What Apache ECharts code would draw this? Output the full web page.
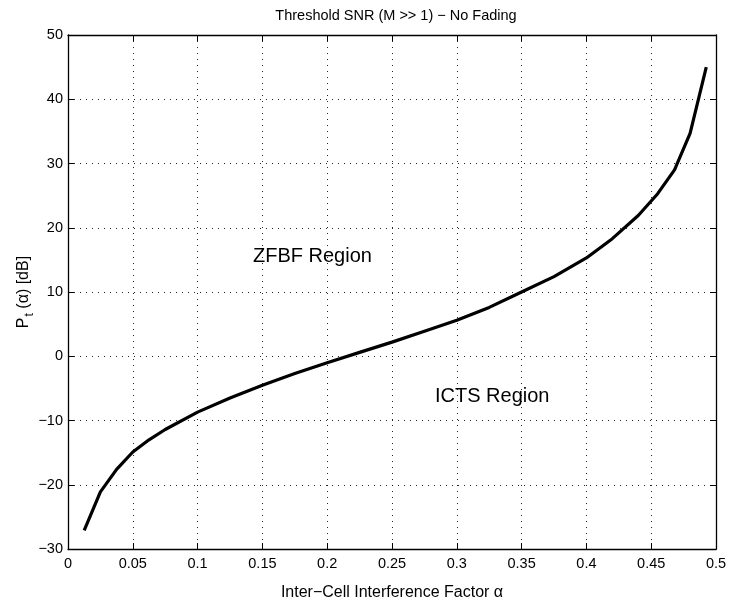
<!DOCTYPE html>
<html>
<head>
<meta charset="utf-8">
<script src="https://cdn.jsdelivr.net/npm/echarts@6/dist/echarts.min.js"></script>
<style>
  html, body { margin: 0; padding: 0; background: #fff; }
  #main { width: 730px; height: 603px; }
</style>
</head>
<body>
<div id="main"></div>
<script>
// inter-cell interference factor alpha
var alphaVals = [0.0125, 0.025, 0.0375, 0.05, 0.0625, 0.075, 0.1, 0.125, 0.15, 0.175,
  0.2, 0.225, 0.25, 0.275, 0.3, 0.325, 0.35, 0.375, 0.4, 0.42, 0.44, 0.455, 0.468, 0.48, 0.4925];
// threshold power Pt(alpha) in dB
var ptVals = [-27.1, -21.1, -17.6, -14.9, -13.0, -11.4, -8.7, -6.5, -4.5, -2.7,
  -1.0, 0.6, 2.2, 3.9, 5.6, 7.6, 10.0, 12.4, 15.3, 18.3, 21.9, 25.3, 29.0, 34.7, 45.0];

var FONT = 'Liberation Sans';
var chart = echarts.init(document.getElementById('main'));

var pts = alphaVals.map(function (a, i) { return [a, ptVals[i]]; });

var gridLine = { show: true, lineStyle: { color: '#000', type: [1, 5], width: 1, opacity: 0.85 } };
var axLine = { show: true, onZero: false, lineStyle: { color: '#000', width: 1.3 } };
var tick = { show: true, inside: true, length: 6, lineStyle: { color: '#000' } };
var minusFmt = function (v) { return String(v).replace('-', '\u2212'); };

var option = {
  backgroundColor: '#fff',
  animation: false,
  title: {
    text: 'Threshold SNR (M >> 1) \u2212 No Fading',
    left: 391, top: 3, textAlign: 'center',
    textStyle: { fontFamily: FONT, fontSize: 14.5, fontWeight: 'normal', color: '#000' }
  },
  grid: { left: 68, right: 14, top: 35, bottom: 54, outerBoundsMode: 'none', containLabel: false },
  xAxis: [{
    type: 'value', min: 0, max: 0.5, interval: 0.05,
    name: 'Inter\u2212Cell Interference Factor \u03b1',
    nameLocation: 'middle', nameGap: 36,
    nameTextStyle: { fontFamily: FONT, fontSize: 16, color: '#000' },
    axisLine: axLine, axisTick: tick, splitLine: gridLine,
    axisLabel: { fontFamily: FONT, fontSize: 14.5, color: '#000', margin: 7, formatter: minusFmt }
  }, {
    type: 'value', min: 0, max: 0.5, interval: 0.05, position: 'top',
    axisLine: axLine, axisTick: tick, splitLine: { show: false }, axisLabel: { show: false }
  }],
  yAxis: [{
    type: 'value', min: -30, max: 50, interval: 10,
    name: '{a|P}{s|t}{a| (\u03b1) [dB]}',
    nameLocation: 'middle', nameGap: 34, nameMoveOverlap: false,
    nameTextStyle: {
      fontFamily: FONT, fontSize: 16, color: '#000',
      rich: {
        a: { fontFamily: FONT, fontSize: 16, color: '#000', lineHeight: 20 },
        s: { fontFamily: FONT, fontSize: 12, color: '#000', lineHeight: 20, padding: [12, 0, 0, 1] }
      }
    },
    axisLine: axLine, axisTick: tick, splitLine: gridLine,
    axisLabel: { fontFamily: FONT, fontSize: 14.5, color: '#000', margin: 5, formatter: minusFmt }
  }, {
    type: 'value', min: -30, max: 50, interval: 10, position: 'right',
    axisLine: axLine, axisTick: tick, splitLine: { show: false }, axisLabel: { show: false }
  }],
  series: [{
    type: 'line',
    data: pts,
    showSymbol: false,
    lineStyle: { color: '#000', width: 3.2 },
    z: 5
  }],
  graphic: [
    { type: 'text', left: 253, top: 246,
      style: { text: 'ZFBF Region', font: '20px "Liberation Sans"', fill: '#000' } },
    { type: 'text', left: 435, top: 386,
      style: { text: 'ICTS Region', font: '20px "Liberation Sans"', fill: '#000' } }
  ]
};

chart.setOption(option);
</script>
</body>
</html>
